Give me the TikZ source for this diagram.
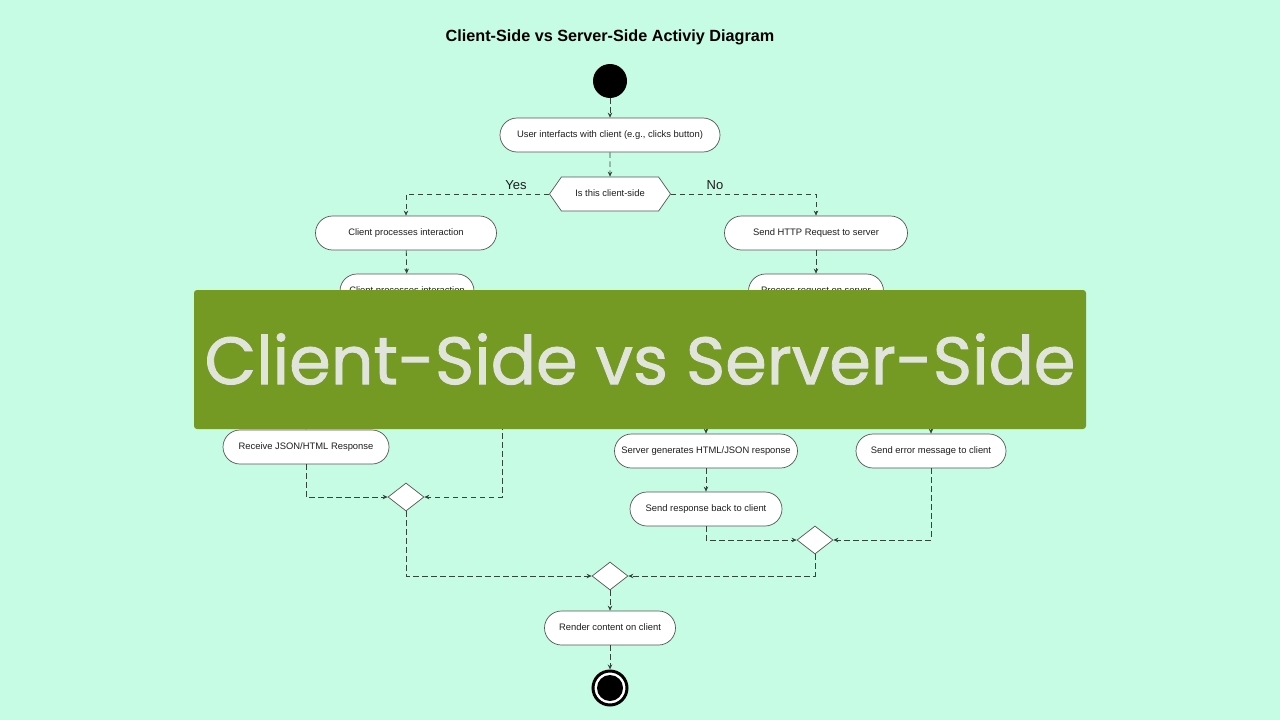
\documentclass[tikz,border=0pt]{standalone}
\usepackage{fontspec}
\setmainfont{Liberation Sans}
\newfontfamily\bannerfont{Poppins}[FakeBold=1.2]
\usetikzlibrary{shapes.geometric,shapes.symbols,arrows.meta}
\definecolor{bg}{RGB}{198,251,228}
\definecolor{linegray}{RGB}{85,85,85}
\definecolor{flowc}{RGB}{50,70,60}
\definecolor{txt}{RGB}{30,30,30}
\definecolor{banner}{RGB}{116,154,36}
\definecolor{bantext}{RGB}{225,228,218}
\begin{document}
\begin{tikzpicture}[x=1pt,y=-1pt,
  act/.style={draw=linegray, fill=white, rounded corners=17pt, minimum height=34pt, inner sep=2pt, text height=7pt, text depth=1.5pt, font=\fontsize{9.4}{11}\selectfont, text=txt, line width=0.7pt},
  flow/.style={draw=flowc, dash pattern=on 5.5pt off 3.5pt, line width=0.8pt, -{Stealth[length=5pt,width=4.5pt]}},
  merge/.style={diamond, draw=linegray, fill=white, minimum width=36pt, minimum height=28pt, inner sep=0pt, aspect=1.3, line width=0.7pt},
  lbl/.style={font=\fontsize{13}{15}\selectfont, text=txt}
]
\fill[bg] (0,0) rectangle (1280,720);
\useasboundingbox (0,0) rectangle (1280,720);

\node[font=\bfseries\fontsize{16.2}{19}\selectfont, text=black] (title) at (610,37) {Client-Side vs Server-Side Activiy Diagram};

\node[circle, fill=black, minimum size=34pt, inner sep=0pt] (start) at (610,81) {};
\node[act, minimum width=220pt] (A) at (610,135) {User interfacts with client (e.g., clicks button)};
\node[signal, signal to=west and east, signal pointer angle=110, draw=linegray, fill=white, minimum width=121pt, minimum height=34pt, inner sep=2pt, text height=7pt, text depth=1.5pt, font=\fontsize{9.4}{11}\selectfont, text=txt, line width=0.7pt] (dec) at (610,194) {Is this client-side};

\node[act, minimum width=181pt] (C1) at (406,233) {Client processes interaction};
\node[act, minimum width=183pt] (S1) at (816,233) {Send HTTP Request to server};
\node[act, minimum width=134pt] (C2) at (407,291) {Client processes interaction};
\node[act, minimum width=135pt] (S2) at (816,291) {Process request on server};

\node[act, minimum width=166pt] (R) at (306,447) {Receive JSON/HTML Response};
\node[act, minimum width=183pt] (G) at (706,451) {Server generates HTML/JSON response};
\node[act, minimum width=150pt] (E) at (931,451) {Send error message to client};
\node[act, minimum width=152pt] (SR) at (706,509) {Send response back to client};

\node[merge] (M1) at (406,497) {};
\node[merge] (M2) at (815,540) {};
\node[merge] (M3) at (610,576) {};

\node[act, minimum width=131pt] (Rend) at (610,628) {Render content on client};

\node[circle, draw=black, line width=3pt, fill=white, minimum size=34pt, inner sep=0pt] (end) at (610,688) {};
\node[circle, fill=black, minimum size=26pt, inner sep=0pt] (endin) at (610,688) {};

\coordinate (hR) at (306,415);
\coordinate (hL) at (502,415);
\coordinate (hG) at (706,415);
\coordinate (hE) at (931,415);

\draw[flow] (start) -- (A);
\draw[flow] (A) -- (dec);
\draw[flow] (dec.west) -| (C1.north);
\draw[flow] (dec.east) -| (S1.north);
\node[lbl] (yes) at (516,185) {Yes};
\node[lbl] (no) at (715,185) {No};
\draw[flow] (C1) -- (C2);
\draw[flow] (S1) -- (S2);
\draw[flow] (hR) -- (R.north);
\draw[flow] (hL) |- (M1.east);
\draw[flow] (R.south) |- (M1.west);
\draw[flow] (hG) -- (G.north);
\draw[flow] (hE) -- (E.north);
\draw[flow] (G) -- (SR);
\draw[flow] (SR.south) |- (M2.west);
\draw[flow] (E.south) |- (M2.east);
\draw[flow] (M1.south) |- (M3.west);
\draw[flow] (M2.south) |- (M3.east);
\draw[flow] (M3) -- (Rend);
\draw[flow] (Rend) -- (end);

\node[fill=banner, rounded corners=3pt, minimum width=892pt, minimum height=139pt, inner sep=0pt] (ban) at (640,359.5) {};
\node[text=bantext, inner sep=0pt, font=\bannerfont\fontsize{67}{75}\selectfont] (bt) at (640,359) {Client-Side vs Server-Side};
\end{tikzpicture}
\end{document}
